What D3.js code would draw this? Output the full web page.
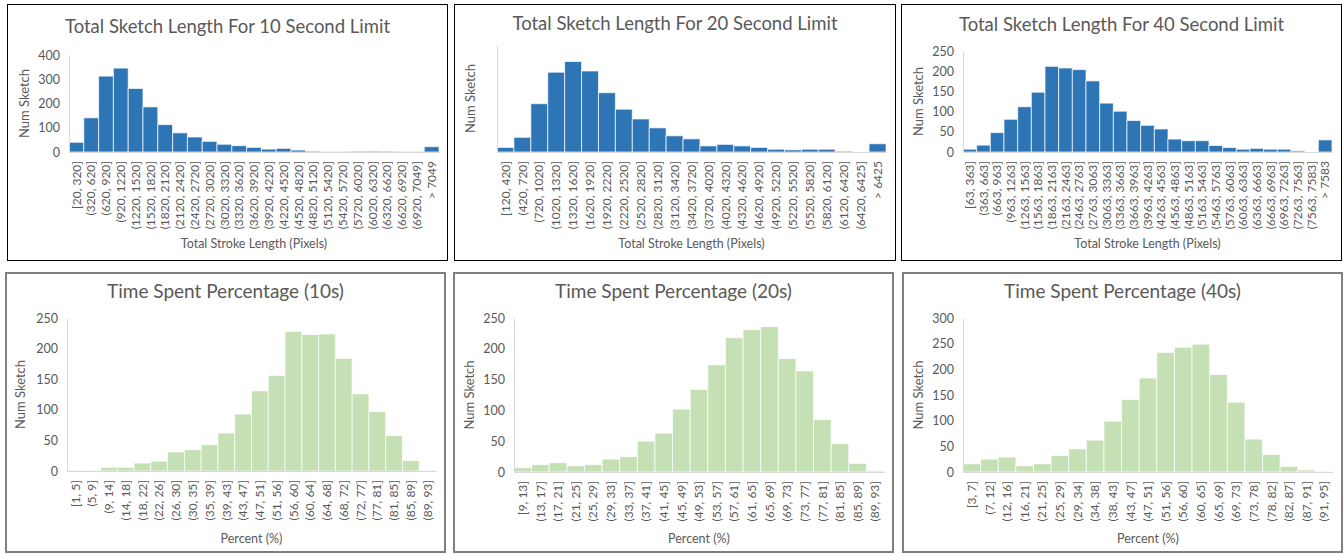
<!DOCTYPE html>
<html lang="en">
<head>
  <meta charset="UTF-8">
  <title>Sketch Length and Time Spent Histograms</title>
  <style>
    body { margin: 0; background: #fff; }
    text { font-family: Lato, "Open Sans", sans-serif; }
  </style>
</head>
<body>
  <div id="chart"></div>
  <script src="https://d3js.org/d3.v7.min.js"></script>
  <script>
// ---- data ----
const len10Bins = ['[20, 320]', '(320, 620]', '(620, 920]', '(920, 1220]', '(1220, 1520]', '(1520, 1820]',
  '(1820, 2120]', '(2120, 2420]', '(2420, 2720]', '(2720, 3020]', '(3020, 3320]', '(3320, 3620]',
  '(3620, 3920]', '(3920, 4220]', '(4220, 4520]', '(4520, 4820]', '(4820, 5120]', '(5120, 5420]',
  '(5420, 5720]', '(5720, 6020]', '(6020, 6320]', '(6320, 6620]', '(6620, 6920]', '(6920, 7049]', '> 7049']
const len10Counts = [40, 141, 313, 346, 262, 186, 113, 79, 62, 44, 32, 26, 19, 12, 15, 8, 4, 1, 1, 3, 4, 3, 1, 1, 22]
const len10Ticks = [0, 100, 200, 300, 400]

const len20Bins = ['[120, 420]', '(420, 720]', '(720, 1020]', '(1020, 1320]', '(1320, 1620]', '(1620, 1920]',
  '(1920, 2220]', '(2220, 2520]', '(2520, 2820]', '(2820, 3120]', '(3120, 3420]', '(3420, 3720]',
  '(3720, 4020]', '(4020, 4320]', '(4320, 4620]', '(4620, 4920]', '(4920, 5220]', '(5220, 5520]',
  '(5520, 5820]', '(5820, 6120]', '(6120, 6420]', '(6420, 6425]', '> 6425']
const len20Counts = [15, 48, 158, 261, 296, 265, 194, 140, 108, 79, 53, 43, 20, 25, 20, 15, 9, 7, 9, 9, 3, 0, 27]
const len20Ticks = []   // the reference hides this axis' labels

const len40Bins = ['[63, 363]', '(363, 663]', '(663, 963]', '(963, 1263]', '(1263, 1563]', '(1563, 1863]',
  '(1863, 2163]', '(2163, 2463]', '(2463, 2763]', '(2763, 3063]', '(3063, 3363]', '(3363, 3663]',
  '(3663, 3963]', '(3963, 4263]', '(4263, 4563]', '(4563, 4863]', '(4863, 5163]', '(5163, 5463]',
  '(5463, 5763]', '(5763, 6063]', '(6063, 6363]', '(6363, 6663]', '(6663, 6963]', '(6963, 7263]',
  '(7263, 7563]', '(7563, 7583]', '> 7583']
const len40Counts = [7, 17, 48, 81, 112, 148, 212, 208, 204, 176, 121, 101, 78, 66, 57, 32, 28, 28, 16, 11, 7, 9, 7, 7, 3, 0, 30]
const len40Ticks = [0, 50, 100, 150, 200, 250]

const pct10Bins = ['[1, 5]', '(5, 9]', '(9, 14]', '(14, 18]', '(18, 22]', '(22, 26]', '(26, 30]', '(30, 35]',
  '(35, 39]', '(39, 43]', '(43, 47]', '(47, 51]', '(51, 56]', '(56, 60]', '(60, 64]', '(64, 68]',
  '(68, 72]', '(72, 77]', '(77, 81]', '(81, 85]', '(85, 89]', '(89, 93]']
const pct10Counts = [1, 1, 6, 6, 13, 16, 31, 35, 43, 62, 93, 131, 156, 228, 223, 224, 184, 126, 97, 58, 17, 1]
const pct10Ticks = [0, 50, 100, 150, 200, 250]

const pct20Bins = ['[9, 13]', '(13, 17]', '(17, 21]', '(21, 25]', '(25, 29]', '(29, 33]', '(33, 37]', '(37, 41]',
  '(41, 45]', '(45, 49]', '(49, 53]', '(53, 57]', '(57, 61]', '(61, 65]', '(65, 69]', '(69, 73]',
  '(73, 77]', '(77, 81]', '(81, 85]', '(85, 89]', '(89, 93]']
const pct20Counts = [7, 12, 15, 10, 12, 21, 25, 50, 63, 102, 134, 174, 218, 231, 236, 184, 164, 85, 46, 14, 2]
const pct20Ticks = [0, 50, 100, 150, 200, 250]

const pct40Bins = ['[3, 7]', '(7, 12]', '(12, 16]', '(16, 21]', '(21, 25]', '(25, 29]', '(29, 34]', '(34, 38]',
  '(38, 43]', '(43, 47]', '(47, 51]', '(51, 56]', '(56, 60]', '(60, 65]', '(65, 69]', '(69, 73]',
  '(73, 78]', '(78, 82]', '(82, 87]', '(87, 91]', '(91, 95]']
const pct40Counts = [16, 25, 29, 12, 16, 32, 45, 62, 99, 141, 183, 233, 243, 249, 190, 136, 64, 34, 11, 4, 1]
const pct40Ticks = [0, 50, 100, 150, 200, 250, 300]

const blue = '#2e75b6'
const green = '#c5e0b4'

// panel boxes and plot areas (page pixels)
const panels = [
  { title: 'Total Sketch Length For 10 Second Limit', xTitle: 'Total Stroke Length (Pixels)',
    bins: len10Bins, counts: len10Counts, ticks: len10Ticks, yMax: 400, fill: blue,
    box: [7, 4, 448, 261], plot: [69, 55, 439, 152], yTitleX: 24, titleY: 33, xTitleY: 248, titleSize: 18.5, border: '#000', bw: 1 },
  { title: 'Total Sketch Length For 20 Second Limit', xTitle: 'Total Stroke Length (Pixels)',
    bins: len20Bins, counts: len20Counts, ticks: len20Ticks, yMax: 350, fill: blue,
    box: [454, 4, 896, 261], plot: [497, 45, 886, 152], yTitleX: 470, titleY: 30, xTitleY: 248, titleSize: 18.5, border: '#000', bw: 1 },
  { title: 'Total Sketch Length For 40 Second Limit', xTitle: 'Total Stroke Length (Pixels)',
    bins: len40Bins, counts: len40Counts, ticks: len40Ticks, yMax: 250, fill: blue,
    box: [901, 4, 1342, 261], plot: [963, 51, 1332, 152], yTitleX: 918, titleY: 31, xTitleY: 248, titleSize: 18.5, border: '#000', bw: 1 },
  { title: 'Time Spent Percentage (10s)', xTitle: 'Percent (%)',
    bins: pct10Bins, counts: pct10Counts, ticks: pct10Ticks, yMax: 250, fill: green,
    box: [5, 272, 446, 553], plot: [67, 318, 436, 471], yTitleX: 20, titleY: 298, xTitleY: 543, titleSize: 19, border: '#7f7f7f', bw: 2 },
  { title: 'Time Spent Percentage (20s)', xTitle: 'Percent (%)',
    bins: pct20Bins, counts: pct20Counts, ticks: pct20Ticks, yMax: 250, fill: green,
    box: [453, 272, 894, 553], plot: [514, 318, 884, 472], yTitleX: 469, titleY: 298, xTitleY: 543, titleSize: 19, border: '#7f7f7f', bw: 2 },
  { title: 'Time Spent Percentage (40s)', xTitle: 'Percent (%)',
    bins: pct40Bins, counts: pct40Counts, ticks: pct40Ticks, yMax: 300, fill: green,
    box: [902, 272, 1343, 553], plot: [963, 318, 1333, 472], yTitleX: 918, titleY: 298, xTitleY: 543, titleSize: 19, border: '#7f7f7f', bw: 2 }
]

const svg = d3.select('#chart')
  .append('svg')
    .attr('width', 1344)
    .attr('height', 554)

function drawPanel(p) {
  const [bx0, by0, bx1, by1] = p.box
  const [left, top, right, bottom] = p.plot
  const g = svg.append('g')

  // frame
  g.append('rect')
    .attr('x', bx0 + p.bw / 2)
    .attr('y', by0 + p.bw / 2)
    .attr('width', bx1 - bx0 - p.bw)
    .attr('height', by1 - by0 - p.bw)
    .attr('fill', '#fff')
    .attr('stroke', p.border)
    .attr('stroke-width', p.bw)

  const x = d3.scaleBand()
    .domain(p.bins)
    .range([left, right])
    .padding(0)

  const y = d3.scaleLinear()
    .domain([0, p.yMax])
    .range([bottom, top])

  // bars
  g.append('g')
    .selectAll('rect')
    .data(p.bins.map((b, i) => ({ bin: b, n: p.counts[i] })))
    .enter()
    .append('rect')
      .attr('x', d => x(d.bin))
      .attr('y', d => y(d.n))
      .attr('width', x.bandwidth())
      .attr('height', d => y(0) - y(d.n))
      .attr('fill', p.fill)
      .attr('stroke', '#fff')
      .attr('stroke-opacity', 0.7)
      .attr('stroke-width', 1)

  // left axis: light line plus labels
  const leftAxis = d3.axisLeft(y)
    .tickValues(p.ticks)
    .tickSize(0)
    .tickPadding(9)
  const ya = g.append('g')
    .attr('transform', `translate(${left}, 0)`)
    .call(leftAxis)
  ya.select('.domain').attr('stroke', '#d9d9d9')
  ya.selectAll('text')
    .attr('fill', '#595959')
    .style('font-size', '12.5px')

  // bottom axis with rotated bin labels
  const bottomAxis = d3.axisBottom(x).tickSize(0).tickPadding(0)
  const xa = g.append('g')
    .attr('transform', `translate(0, ${bottom})`)
    .call(bottomAxis)
  xa.select('.domain').attr('stroke', '#d9d9d9')
  xa.selectAll('text')
    .attr('fill', '#595959')
    .style('font-size', '12px')
    .attr('text-anchor', 'end')
    .attr('transform', 'rotate(-90)')
    .attr('x', -9)
    .attr('y', 0)
    .attr('dy', '0.35em')

  // titles
  g.append('text')
    .attr('x', (bx0 + bx1) / 2)
    .attr('y', p.titleY)
    .attr('text-anchor', 'middle')
    .attr('fill', '#595959')
    .style('font-size', p.titleSize + 'px')
    .text(p.title)

  g.append('text')
    .attr('x', (left + right) / 2)
    .attr('y', p.xTitleY)
    .attr('text-anchor', 'middle')
    .attr('fill', '#595959')
    .style('font-size', '12.5px')
    .text(p.xTitle)

  g.append('text')
    .attr('transform', `translate(${p.yTitleX}, ${(top + bottom) / 2}) rotate(-90)`)
    .attr('text-anchor', 'middle')
    .attr('dy', '0.35em')
    .attr('fill', '#595959')
    .style('font-size', '13px')
    .text('Num Sketch')
}

panels.forEach(drawPanel)
  </script>
</body>
</html>
